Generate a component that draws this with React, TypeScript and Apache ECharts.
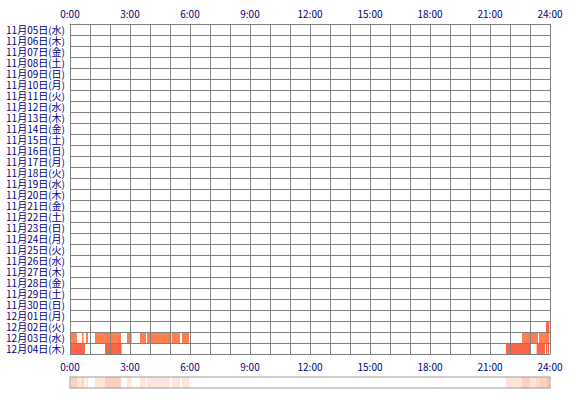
import React, { useEffect, useRef } from "react";
import * as echarts from "echarts";

// One row per day, top to bottom
const dayLabels = [
  "11月05日(水)", "11月06日(木)", "11月07日(金)", "11月08日(土)", "11月09日(日)",
  "11月10日(月)", "11月11日(火)", "11月12日(水)", "11月13日(木)", "11月14日(金)",
  "11月15日(土)", "11月16日(日)", "11月17日(月)", "11月18日(火)", "11月19日(水)",
  "11月20日(木)", "11月21日(金)", "11月22日(土)", "11月23日(日)", "11月24日(月)",
  "11月25日(火)", "11月26日(水)", "11月27日(木)", "11月28日(金)", "11月29日(土)",
  "11月30日(日)", "12月01日(月)", "12月02日(火)", "12月03日(水)", "12月04日(木)",
];

// Hour-axis labels, every 3 hours
const hourTicks = ["0:00", "3:00", "6:00", "9:00", "12:00", "15:00", "18:00", "21:00", "24:00"];

// Active spans per day, [start hour, end hour]
const dec02Spans = [[23.8, 23.97]];
const dec03Spans = [
  [0.05, 0.35], [0.6, 0.68], [0.8, 0.9], [1.25, 2.55], [2.85, 3.08],
  [3.5, 3.8], [3.85, 5.0], [5.08, 5.5], [5.6, 5.95],
  [22.6, 23.4], [23.45, 23.97],
];
const dec04Spans = [
  [0.05, 0.75], [1.75, 2.58],
  [21.8, 23.0], [23.33, 23.75], [23.8, 23.87], [23.9, 23.95],
];

const dayRows = [
  { label: "12月02日(火)", spans: dec02Spans, color: "#FF6347" },
  { label: "12月03日(水)", spans: dec03Spans, color: "#FF7F50" },
  { label: "12月04日(木)", spans: dec04Spans, color: "#FF6347" },
];

const GRID_COLOR = "#808080";
const TEXT_COLOR = "#000080";
const FONT = "'Noto Sans CJK JP', sans-serif";

export default function App() {
  const ref = useRef<HTMLDivElement>(null);

  useEffect(() => {
    if (!ref.current) return;
    const chart = echarts.init(ref.current, undefined, { renderer: "svg" });

    const hourLabel = (v: number) => (v % 3 === 0 ? hourTicks[v / 3] : "");

    const spanSeries = dayRows.map((d) => ({
      type: "custom" as const,
      xAxisIndex: 0,
      yAxisIndex: 0,
      z: 1,
      data: d.spans.map((s) => [s[0], s[1], dayLabels.indexOf(d.label)]),
      encode: { x: [0, 1], y: 2 },
      renderItem: (_p: any, api: any) => {
        const row = api.value(2);
        const a = api.coord([api.value(0), row]);
        const b = api.coord([api.value(1), row]);
        const h = api.size([0, 1])[1];
        return {
          type: "rect",
          shape: { x: a[0], y: a[1] - h / 2, width: b[0] - a[0], height: h },
          style: { fill: d.color },
        };
      },
    }));

    // Overview strip: all days stacked with low opacity
    const allSpans = dayRows.flatMap((d) => d.spans.map((s) => [s[0], s[1], 0]));
    const stripSeries = {
      type: "custom" as const,
      xAxisIndex: 2,
      yAxisIndex: 1,
      z: 1,
      data: allSpans,
      encode: { x: [0, 1], y: 2 },
      renderItem: (_p: any, api: any) => {
        const a = api.coord([api.value(0), 0]);
        const b = api.coord([api.value(1), 1]);
        return {
          type: "rect",
          shape: { x: a[0], y: b[1], width: b[0] - a[0], height: a[1] - b[1] },
          style: { fill: "rgba(255,127,80,0.2)" },
        };
      },
    };

    const hourAxisBase = {
      type: "value" as const,
      gridIndex: 0,
      min: 0,
      max: 24,
      interval: 1,
      z: 3,
      axisLine: { show: true, lineStyle: { color: GRID_COLOR, width: 1 } },
      axisTick: { show: false },
      axisLabel: {
        formatter: hourLabel,
        color: TEXT_COLOR,
        fontSize: 10,
        lineHeight: 11,
        fontFamily: FONT,
        showMinLabel: true,
        showMaxLabel: true,
      },
    };

    chart.setOption({
      animation: false,
      grid: [
        { left: 70, top: 24, width: 480, height: 330 },
        {
          left: 70, top: 377, width: 480, height: 11,
          show: true, borderColor: "#BBBBBB", borderWidth: 1.5, backgroundColor: "#fff",
        },
      ],
      xAxis: [
        {
          ...hourAxisBase,
          position: "top",
          axisLabel: { ...hourAxisBase.axisLabel, margin: 5 },
          splitLine: { show: true, lineStyle: { color: GRID_COLOR, width: 1 } },
        },
        {
          ...hourAxisBase,
          position: "bottom",
          axisLabel: { ...hourAxisBase.axisLabel, margin: 7 },
          splitLine: { show: false },
        },
        {
          type: "value", gridIndex: 1, min: 0, max: 24, show: false,
          splitLine: { show: false },
        },
      ],
      yAxis: [
        {
          type: "category",
          gridIndex: 0,
          inverse: true,
          data: dayLabels,
          boundaryGap: true,
          z: 3,
          axisLine: { show: true, lineStyle: { color: GRID_COLOR, width: 1 } },
          axisTick: { show: false },
          axisLabel: {
            interval: 0,
            color: TEXT_COLOR,
            fontSize: 10,
            lineHeight: 11,
            fontFamily: FONT,
            margin: 5,
          },
          splitLine: { show: true, interval: 0, lineStyle: { color: GRID_COLOR, width: 1 } },
        },
        {
          type: "value", gridIndex: 1, min: 0, max: 1, show: false,
          splitLine: { show: false },
        },
      ],
      series: [...spanSeries, stripSeries],
    });

    return () => chart.dispose();
  }, []);

  return (
    <div
      ref={ref}
      style={{ position: "fixed", left: 0, top: 0, width: 570, height: 400, background: "#fff" }}
    />
  );
}
